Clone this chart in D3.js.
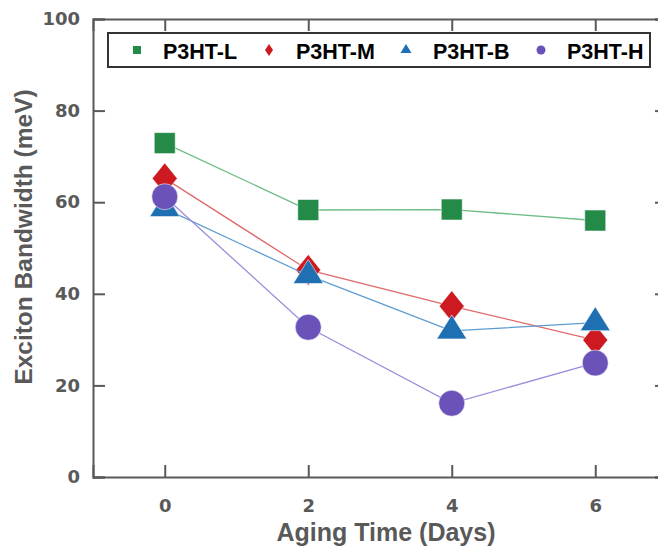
<!DOCTYPE html>
<html>
<head>
<meta charset="utf-8">
<script src="https://cdn.jsdelivr.net/npm/d3@7"></script>
<style>
  html, body { margin: 0; padding: 0; background: #fff; }
  svg { display: block; }
</style>
</head>
<body>
<svg id="chart" width="658" height="550"></svg>
<script>
// Aging time (days) and exciton bandwidth (meV) for each P3HT sample
const days = [0, 2, 4, 6];
const seriesNames = ["P3HT-L", "P3HT-M", "P3HT-B", "P3HT-H"];
const valuesL = [72.9, 58.3, 58.4, 56.0];
const valuesM = [65.2, 45.2, 37.3, 29.9];
const valuesB = [58.6, 44.0, 31.9, 33.7];
const valuesH = [61.2, 32.7, 16.1, 24.9];
const xTicks = [0, 2, 4, 6];
const yTicks = [0, 20, 40, 60, 80, 100];

const svg = d3.select("#chart");
const plotLeft = 93, plotRight = 667, plotTop = 19, plotBottom = 477;

const x = d3.scaleLinear().domain([-1, 7]).range([plotLeft, plotRight]);
const y = d3.scaleLinear().domain([0, 100]).range([plotBottom, plotTop]);

const axisColor = "#595959";
const tickFont = "'DejaVu Sans', sans-serif";

// Marker shapes, centred on the data point
const shapes = {
  square: (s) => { const h = s / 2; return `M${-h},${-h}H${h}V${h}H${-h}Z`; },
  diamond: (w, hgt) => `M0,${-hgt/2}L${w/2},0L0,${hgt/2}L${-w/2},0Z`,
  triangle: (w, hgt) => `M0,${-hgt*2/3}L${w/2},${hgt/3}L${-w/2},${hgt/3}Z`,
  circle: (d) => { const r = d / 2; return `M${r},0A${r},${r} 0 1,1 ${-r},0A${r},${r} 0 1,1 ${r},0Z`; }
};

const series = [
  { name: seriesNames[0], values: valuesL, fill: "#238a47", line: "#6dbb86",
    big: shapes.square(21), small: shapes.square(8) },
  { name: seriesNames[1], values: valuesM, fill: "#cc1a20", line: "#e06a6a",
    big: shapes.diamond(25, 31), small: shapes.diamond(8, 12) },
  { name: seriesNames[2], values: valuesB, fill: "#1f6fb3", line: "#5d9bd2",
    big: shapes.triangle(30, 24), small: shapes.triangle(11, 9) },
  { name: seriesNames[3], values: valuesH, fill: "#6b52b9", line: "#9c8ddc",
    big: shapes.circle(26), small: shapes.circle(9) }
];

// Axes: ticks point inward on all four sides
const axG = svg.append("g");
axG.append("g").attr("transform", `translate(0,${plotBottom})`)
  .call(d3.axisBottom(x).tickValues(xTicks).tickSize(-12).tickPadding(22).tickFormat(d3.format("d")));
axG.append("g").attr("transform", `translate(${plotLeft},0)`)
  .call(d3.axisLeft(y).tickValues(yTicks).tickSize(-12).tickPadding(13));
axG.append("g").attr("transform", `translate(0,${plotTop})`)
  .call(d3.axisTop(x).tickValues(xTicks).tickSize(-12).tickFormat(""));
axG.append("g").attr("transform", `translate(${plotRight},0)`)
  .call(d3.axisRight(y).tickValues(yTicks).tickSize(-12).tickFormat(""));

axG.selectAll(".domain").attr("stroke", axisColor).attr("stroke-width", 2);
axG.selectAll(".tick line").attr("stroke", axisColor).attr("stroke-width", 2);
axG.selectAll(".tick text")
  .attr("fill", axisColor)
  .style("font-family", tickFont)
  .style("font-weight", "bold")
  .style("font-size", "18px");

// Series: connecting line, then markers
const line = d3.line().x((d, i) => x(days[i])).y(d => y(d));
series.forEach(s => {
  const g = svg.append("g");
  g.append("path")
    .attr("d", line(s.values))
    .attr("fill", "none")
    .attr("stroke", s.line)
    .attr("stroke-width", 1.3);
  g.selectAll("path.mk").data(s.values).enter().append("path")
    .attr("class", "mk")
    .attr("transform", (d, i) => `translate(${x(days[i])},${y(d)})`)
    .attr("d", s.big)
    .attr("fill", s.fill)
    .attr("stroke", "#ffffff")
    .attr("stroke-opacity", 0.55)
    .attr("stroke-width", 1);
});

// Legend
const lg = svg.append("g");
lg.append("rect")
  .attr("x", 108).attr("y", 33).attr("width", 542).attr("height", 34)
  .attr("fill", "#fff").attr("stroke", "#333").attr("stroke-width", 2);
const markerX = [137, 269, 406, 541];
const textX = [163, 296, 433, 567];
series.forEach((s, i) => {
  lg.append("path")
    .attr("transform", `translate(${markerX[i]},50)`)
    .attr("d", s.small)
    .attr("fill", s.fill);
  lg.append("text")
    .attr("x", textX[i]).attr("y", 58.5)
    .attr("fill", "#000")
    .style("font-family", "'Liberation Sans', Arial, sans-serif")
    .style("font-weight", "bold")
    .style("font-size", "21.5px")
    .text(s.name);
});

// Axis titles
svg.append("text")
  .attr("x", 386).attr("y", 541)
  .attr("text-anchor", "middle")
  .attr("fill", axisColor)
  .style("font-family", "'Liberation Sans', Arial, sans-serif")
  .style("font-weight", "bold")
  .style("font-size", "25px")
  .text("Aging Time (Days)");

svg.append("text")
  .attr("transform", "translate(32,237) rotate(-90)")
  .attr("text-anchor", "middle")
  .attr("fill", axisColor)
  .style("font-family", "'Liberation Sans', Arial, sans-serif")
  .style("font-weight", "bold")
  .style("font-size", "24.5px")
  .text("Exciton Bandwidth (meV)");
</script>
</body>
</html>
